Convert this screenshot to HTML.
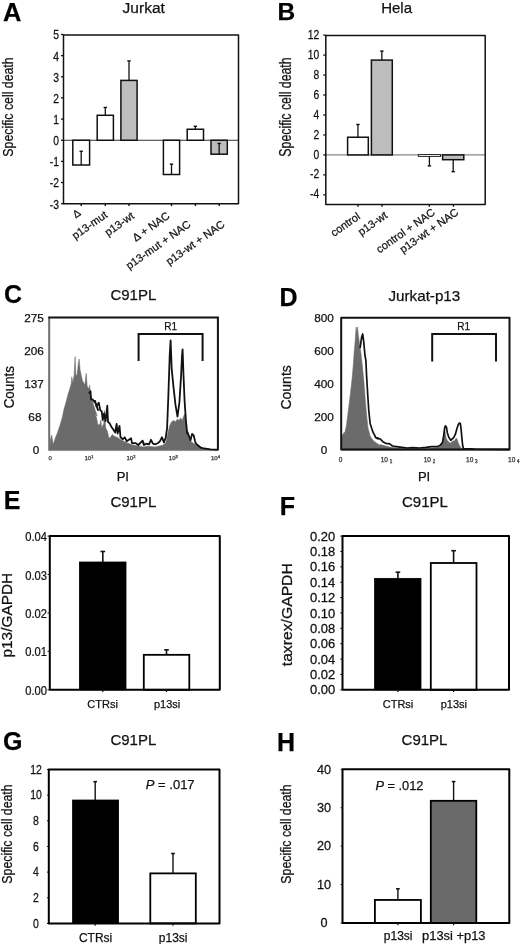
<!DOCTYPE html>
<html><head><meta charset="utf-8"><style>
html,body{margin:0;padding:0;background:#fff;}
svg{display:block;font-family:"Liberation Sans", sans-serif;filter:grayscale(1);}
text{stroke:#111;stroke-width:0.25px;paint-order:stroke;}
</style></head><body>
<svg width="520" height="944" viewBox="0 0 520 944">
<rect x="0" y="0" width="520" height="944" fill="#fff"/>
<text x="3.0" y="20.6" font-size="25.5" text-anchor="start" font-weight="bold" font-style="normal" fill="#000" >A</text>
<text x="122.6" y="12.9" font-size="15.5" text-anchor="start" font-weight="normal" font-style="normal" fill="#111" >Jurkat</text>
<text transform="translate(12.6,107) rotate(-90) scale(0.8,1)" font-size="15.4" text-anchor="middle" fill="#111">Specific cell death</text>
<line x1="63.5" y1="140.25" x2="238.5" y2="140.25" stroke="#333" stroke-width="1"/>
<line x1="61.0" y1="203.7" x2="63.5" y2="203.7" stroke="#111" stroke-width="1.3"/>
<text transform="translate(59.0,208.6) scale(0.84,1)" font-size="12.3" text-anchor="end" font-weight="normal" font-style="normal" fill="#111" >-3</text>
<line x1="61.0" y1="182.55" x2="63.5" y2="182.55" stroke="#111" stroke-width="1.3"/>
<text transform="translate(59.0,187.45000000000002) scale(0.84,1)" font-size="12.3" text-anchor="end" font-weight="normal" font-style="normal" fill="#111" >-2</text>
<line x1="61.0" y1="161.4" x2="63.5" y2="161.4" stroke="#111" stroke-width="1.3"/>
<text transform="translate(59.0,166.3) scale(0.84,1)" font-size="12.3" text-anchor="end" font-weight="normal" font-style="normal" fill="#111" >-1</text>
<line x1="61.0" y1="140.25" x2="63.5" y2="140.25" stroke="#111" stroke-width="1.3"/>
<text transform="translate(59.0,145.15) scale(0.84,1)" font-size="12.3" text-anchor="end" font-weight="normal" font-style="normal" fill="#111" >0</text>
<line x1="61.0" y1="119.1" x2="63.5" y2="119.1" stroke="#111" stroke-width="1.3"/>
<text transform="translate(59.0,124.0) scale(0.84,1)" font-size="12.3" text-anchor="end" font-weight="normal" font-style="normal" fill="#111" >1</text>
<line x1="61.0" y1="97.95" x2="63.5" y2="97.95" stroke="#111" stroke-width="1.3"/>
<text transform="translate(59.0,102.85000000000001) scale(0.84,1)" font-size="12.3" text-anchor="end" font-weight="normal" font-style="normal" fill="#111" >2</text>
<line x1="61.0" y1="76.80000000000001" x2="63.5" y2="76.80000000000001" stroke="#111" stroke-width="1.3"/>
<text transform="translate(59.0,81.70000000000002) scale(0.84,1)" font-size="12.3" text-anchor="end" font-weight="normal" font-style="normal" fill="#111" >3</text>
<line x1="61.0" y1="55.650000000000006" x2="63.5" y2="55.650000000000006" stroke="#111" stroke-width="1.3"/>
<text transform="translate(59.0,60.550000000000004) scale(0.84,1)" font-size="12.3" text-anchor="end" font-weight="normal" font-style="normal" fill="#111" >4</text>
<line x1="61.0" y1="34.5" x2="63.5" y2="34.5" stroke="#111" stroke-width="1.3"/>
<text transform="translate(59.0,39.4) scale(0.84,1)" font-size="12.3" text-anchor="end" font-weight="normal" font-style="normal" fill="#111" >5</text>
<rect x="72.80" y="140.25" width="16.80" height="24.75" fill="#fff" stroke="#111" stroke-width="1.5"/>
<line x1="81.19999999999999" y1="164.9955" x2="81.19999999999999" y2="151.248" stroke="#111" stroke-width="1.3"/>
<line x1="79.49999999999999" y1="151.248" x2="82.89999999999999" y2="151.248" stroke="#111" stroke-width="1.4"/>
<rect x="97.20" y="115.29" width="16.20" height="24.96" fill="#fff" stroke="#111" stroke-width="1.5"/>
<line x1="105.30000000000001" y1="115.293" x2="105.30000000000001" y2="107.4675" stroke="#111" stroke-width="1.3"/>
<line x1="103.60000000000001" y1="107.4675" x2="107.00000000000001" y2="107.4675" stroke="#111" stroke-width="1.4"/>
<rect x="120.90" y="80.40" width="16.20" height="59.85" fill="#bdbdbd" stroke="#111" stroke-width="1.5"/>
<line x1="129.0" y1="80.3955" x2="129.0" y2="60.9375" stroke="#111" stroke-width="1.3"/>
<line x1="127.3" y1="60.9375" x2="130.7" y2="60.9375" stroke="#111" stroke-width="1.4"/>
<rect x="163.40" y="140.25" width="16.20" height="34.26" fill="#fff" stroke="#111" stroke-width="1.5"/>
<line x1="171.5" y1="174.513" x2="171.5" y2="164.1495" stroke="#111" stroke-width="1.3"/>
<line x1="169.8" y1="164.1495" x2="173.2" y2="164.1495" stroke="#111" stroke-width="1.4"/>
<rect x="187.20" y="129.25" width="16.30" height="11.00" fill="#fff" stroke="#111" stroke-width="1.5"/>
<line x1="195.35" y1="129.252" x2="195.35" y2="126.291" stroke="#111" stroke-width="1.3"/>
<line x1="193.65" y1="126.291" x2="197.04999999999998" y2="126.291" stroke="#111" stroke-width="1.4"/>
<rect x="211.00" y="140.25" width="16.30" height="13.96" fill="#bdbdbd" stroke="#111" stroke-width="1.5"/>
<line x1="219.15" y1="154.209" x2="219.15" y2="143.4225" stroke="#111" stroke-width="1.3"/>
<line x1="217.45000000000002" y1="143.4225" x2="220.85" y2="143.4225" stroke="#111" stroke-width="1.4"/>
<path d="M63.5,203.8 L63.5,35 L238.5,35 L238.5,203.8 Z" fill="none" stroke="#111" stroke-width="1.5" stroke-linejoin="round"/>
<line x1="81.2" y1="203.8" x2="81.2" y2="206.10000000000002" stroke="#111" stroke-width="1.4"/>
<line x1="105.3" y1="203.8" x2="105.3" y2="206.10000000000002" stroke="#111" stroke-width="1.4"/>
<line x1="129.0" y1="203.8" x2="129.0" y2="206.10000000000002" stroke="#111" stroke-width="1.4"/>
<line x1="171.5" y1="203.8" x2="171.5" y2="206.10000000000002" stroke="#111" stroke-width="1.4"/>
<line x1="195.4" y1="203.8" x2="195.4" y2="206.10000000000002" stroke="#111" stroke-width="1.4"/>
<line x1="219.2" y1="203.8" x2="219.2" y2="206.10000000000002" stroke="#111" stroke-width="1.4"/>
<text transform="translate(81.6,214.6) rotate(-35) scale(1.0,1)" font-size="10.5" text-anchor="end" fill="#111">&#916;</text>
<text transform="translate(108.3,216.6) rotate(-35) scale(1.0,1)" font-size="11" text-anchor="end" fill="#111">p13-mut</text>
<text transform="translate(135.0,217.5) rotate(-35) scale(1.0,1)" font-size="11" text-anchor="end" fill="#111">p13-wt</text>
<text transform="translate(170.5,217.5) rotate(-35) scale(1.0,1)" font-size="11" text-anchor="end" fill="#111">&#916; + NAC</text>
<text transform="translate(191.5,226) rotate(-35) scale(1.0,1)" font-size="11" text-anchor="end" fill="#111">p13-mut + NAC</text>
<text transform="translate(225.5,226) rotate(-35) scale(1.0,1)" font-size="11" text-anchor="end" fill="#111">p13-wt + NAC</text>
<text x="277.5" y="19.6" font-size="24.5" text-anchor="start" font-weight="bold" font-style="normal" fill="#000" >B</text>
<text x="381.2" y="12.9" font-size="15" text-anchor="start" font-weight="normal" font-style="normal" fill="#111" >Hela</text>
<text transform="translate(290.8,107) rotate(-90) scale(0.79,1)" font-size="15.6" text-anchor="middle" fill="#111">Specific cell death</text>
<line x1="325.8" y1="154.9" x2="485.2" y2="154.9" stroke="#888" stroke-width="1.4"/>
<line x1="323.3" y1="194.82" x2="325.8" y2="194.82" stroke="#111" stroke-width="1.3"/>
<text transform="translate(319.3,198.42) scale(0.84,1)" font-size="12.3" text-anchor="end" font-weight="normal" font-style="normal" fill="#111" >-4</text>
<line x1="323.3" y1="174.86" x2="325.8" y2="174.86" stroke="#111" stroke-width="1.3"/>
<text transform="translate(319.3,178.46) scale(0.84,1)" font-size="12.3" text-anchor="end" font-weight="normal" font-style="normal" fill="#111" >-2</text>
<line x1="323.3" y1="154.9" x2="325.8" y2="154.9" stroke="#111" stroke-width="1.3"/>
<text transform="translate(319.3,158.5) scale(0.84,1)" font-size="12.3" text-anchor="end" font-weight="normal" font-style="normal" fill="#111" >0</text>
<line x1="323.3" y1="134.94" x2="325.8" y2="134.94" stroke="#111" stroke-width="1.3"/>
<text transform="translate(319.3,138.54) scale(0.84,1)" font-size="12.3" text-anchor="end" font-weight="normal" font-style="normal" fill="#111" >2</text>
<line x1="323.3" y1="114.98" x2="325.8" y2="114.98" stroke="#111" stroke-width="1.3"/>
<text transform="translate(319.3,118.58) scale(0.84,1)" font-size="12.3" text-anchor="end" font-weight="normal" font-style="normal" fill="#111" >4</text>
<line x1="323.3" y1="95.02000000000001" x2="325.8" y2="95.02000000000001" stroke="#111" stroke-width="1.3"/>
<text transform="translate(319.3,98.62) scale(0.84,1)" font-size="12.3" text-anchor="end" font-weight="normal" font-style="normal" fill="#111" >6</text>
<line x1="323.3" y1="75.06" x2="325.8" y2="75.06" stroke="#111" stroke-width="1.3"/>
<text transform="translate(319.3,78.66) scale(0.84,1)" font-size="12.3" text-anchor="end" font-weight="normal" font-style="normal" fill="#111" >8</text>
<line x1="323.3" y1="55.099999999999994" x2="325.8" y2="55.099999999999994" stroke="#111" stroke-width="1.3"/>
<text transform="translate(319.3,58.699999999999996) scale(0.84,1)" font-size="12.3" text-anchor="end" font-weight="normal" font-style="normal" fill="#111" >10</text>
<line x1="323.3" y1="35.14" x2="325.8" y2="35.14" stroke="#111" stroke-width="1.3"/>
<text transform="translate(319.3,38.74) scale(0.84,1)" font-size="12.3" text-anchor="end" font-weight="normal" font-style="normal" fill="#111" >12</text>
<rect x="347.60" y="137.24" width="20.70" height="17.66" fill="#fff" stroke="#111" stroke-width="1.5"/>
<line x1="357.95000000000005" y1="137.2354" x2="357.95000000000005" y2="124.46100000000001" stroke="#111" stroke-width="1.3"/>
<line x1="356.25000000000006" y1="124.46100000000001" x2="359.65000000000003" y2="124.46100000000001" stroke="#111" stroke-width="1.4"/>
<rect x="371.40" y="60.09" width="20.90" height="94.81" fill="#bdbdbd" stroke="#111" stroke-width="1.5"/>
<line x1="381.85" y1="60.09" x2="381.85" y2="51.108000000000004" stroke="#111" stroke-width="1.3"/>
<line x1="380.15000000000003" y1="51.108000000000004" x2="383.55" y2="51.108000000000004" stroke="#111" stroke-width="1.4"/>
<rect x="418.30" y="154.60" width="22.30" height="1.80" fill="#fff" stroke="#111" stroke-width="0.9"/>
<line x1="429.4" y1="156.8" x2="429.4" y2="165.9" stroke="#111" stroke-width="1.3"/>
<line x1="427.7" y1="165.9" x2="431.09999999999997" y2="165.9" stroke="#111" stroke-width="1.4"/>
<rect x="442.60" y="154.90" width="21.20" height="4.79" fill="#bdbdbd" stroke="#111" stroke-width="1.5"/>
<line x1="453.20000000000005" y1="159.6904" x2="453.20000000000005" y2="171.6664" stroke="#111" stroke-width="1.3"/>
<line x1="451.50000000000006" y1="171.6664" x2="454.90000000000003" y2="171.6664" stroke="#111" stroke-width="1.4"/>
<path d="M325.8,204.4 L325.8,35.5 L485.2,35.5 L485.2,204.4 Z" fill="none" stroke="#111" stroke-width="1.5" stroke-linejoin="round"/>
<line x1="358.0" y1="204.4" x2="358.0" y2="206.70000000000002" stroke="#111" stroke-width="1.4"/>
<line x1="382.0" y1="204.4" x2="382.0" y2="206.70000000000002" stroke="#111" stroke-width="1.4"/>
<line x1="429.3" y1="204.4" x2="429.3" y2="206.70000000000002" stroke="#111" stroke-width="1.4"/>
<line x1="453.4" y1="204.4" x2="453.4" y2="206.70000000000002" stroke="#111" stroke-width="1.4"/>
<text transform="translate(361,218) rotate(-35) scale(1.0,1)" font-size="11" text-anchor="end" fill="#111">control</text>
<text transform="translate(388.3,217) rotate(-35) scale(1.0,1)" font-size="11" text-anchor="end" fill="#111">p13-wt</text>
<text transform="translate(435.8,214) rotate(-35) scale(1.0,1)" font-size="11" text-anchor="end" fill="#111">control + NAC</text>
<text transform="translate(459.3,214) rotate(-35) scale(1.0,1)" font-size="11" text-anchor="end" fill="#111">p13-wt + NAC</text>
<text x="4.0" y="303.3" font-size="25" text-anchor="start" font-weight="bold" font-style="normal" fill="#000" >C</text>
<text x="110.4" y="300.4" font-size="15" text-anchor="start" font-weight="normal" font-style="normal" fill="#111" >C91PL</text>
<text transform="translate(13.6,387.2) rotate(-90) scale(0.955,1)" font-size="14" text-anchor="middle" fill="#111">Counts</text>
<text x="34.1" y="322.1" font-size="11.8" text-anchor="middle" font-weight="normal" font-style="normal" fill="#111" >275</text>
<text x="34.1" y="355.1" font-size="11.8" text-anchor="middle" font-weight="normal" font-style="normal" fill="#111" >206</text>
<text x="34.1" y="388.0" font-size="11.8" text-anchor="middle" font-weight="normal" font-style="normal" fill="#111" >137</text>
<text x="34.9" y="421.3" font-size="11.8" text-anchor="middle" font-weight="normal" font-style="normal" fill="#111" >68</text>
<text x="36.0" y="454.40000000000003" font-size="11.8" text-anchor="middle" font-weight="normal" font-style="normal" fill="#111" >0</text>
<polygon points="49.2,450.6 49.8,450.5 50.4,439.8 51.6,435.0 53.3,444.5 55.1,438.6 57.5,432.6 59.9,425.5 62.3,417.2 64.0,408.9 65.8,402.9 67.6,395.8 69.4,389.9 71.2,383.9 71.8,376.8 72.9,382.8 74.1,375.6 75.1,356.6 75.9,375.6 77.1,374.4 78.3,363.8 79.1,359.0 80.1,369.7 81.3,375.6 82.4,380.4 83.6,382.8 84.8,385.1 86.2,373.3 87.2,386.3 89.0,388.7 89.6,385.1 90.5,393.4 91.9,399.4 93.7,405.3 95.5,411.3 97.3,416.0 95.0,414.2 96.4,417.1 97.9,424.8 99.8,424.8 100.8,420.0 101.7,427.7 103.7,423.8 104.6,410.4 105.6,427.7 107.5,431.5 108.9,438.3 110.4,437.3 112.3,434.4 114.2,436.3 117.1,437.3 120.0,439.2 123.8,441.2 127.7,443.1 131.5,444.5 135.4,445.5 139.2,446.0 143.1,446.9 147.8,446.3 155.5,446.9 163.3,445.0 165.8,442.4 167.8,433.4 169.7,425.6 171.7,421.7 173.6,420.4 175.5,421.7 177.5,419.1 178.8,420.4 180.7,417.9 182.0,420.4 184.6,414.0 185.9,420.4 186.5,430.8 188.4,433.4 188.1,437.2 190.5,441.2 192.9,442.8 196.2,445.2 199.4,446.8 202.6,448.5 205.8,449.3 210.7,449.7 217.2,450.1 217.9,450.6" fill="#6b6b6b" stroke="#6b6b6b" stroke-width="0.5" stroke-linejoin="round"/>
<polyline points="89.0,393.4 90.5,391.1 91.0,399.4 92.5,399.4 94.3,401.8 95.5,402.9 96.7,406.5 98.0,410.1 95.0,400.8 96.4,406.5 98.8,402.7 100.3,410.4 101.7,411.3 102.7,420.0 104.1,413.3 105.6,421.0 107.3,405.6 108.0,421.9 109.4,422.9 111.3,426.7 113.3,429.6 115.2,432.5 116.6,423.8 117.6,433.5 119.5,425.8 120.5,437.3 122.9,439.2 124.8,437.3 126.7,441.2 131.1,438.3 132.0,443.1 135.4,443.1 138.3,445.0 142.6,440.7 144.0,444.0 142.6,441.1 143.9,445.0 146.5,443.7 149.0,444.3 151.0,439.8 152.9,443.7 155.5,444.3 158.1,443.0 160.0,441.1 162.0,437.2 163.9,442.4 165.8,437.2 167.1,428.2 168.4,394.6 169.7,355.8 170.6,340.3 171.7,368.8 173.6,388.1 175.5,404.9 177.5,416.6 179.4,402.4 181.1,375.2 182.0,355.8 182.6,349.4 183.5,375.2 184.6,401.1 185.9,420.4 187.2,433.4 186.9,430.7 188.1,433.9 190.5,440.4 192.1,433.9 193.7,435.5 194.9,440.4 195.8,443.6 197.8,445.2 201.0,447.7 204.2,448.5 207.5,448.9 210.7,449.3 217.2,449.7" fill="none" stroke="#111" stroke-width="1.8" stroke-linejoin="round"/>
<line x1="49.2" y1="317.6" x2="49.2" y2="450.5" stroke="#6e6e6e" stroke-width="2.0"/>
<path d="M48.2,317.6 L217.9,317.6 L217.9,450.5" fill="none" stroke="#111" stroke-width="2"/>
<path d="M138.6,361 L138.6,334 L202.6,334 L202.6,361" fill="none" stroke="#111" stroke-width="2"/>
<text x="170.6" y="329.6" font-size="10" text-anchor="middle" font-weight="normal" font-style="normal" fill="#111" >R1</text>
<text x="50.2" y="459.5" font-size="6" text-anchor="middle" font-weight="normal" font-style="normal" fill="#444" >0</text>
<text x="89.0" y="459.5" font-size="6" text-anchor="middle" font-weight="normal" font-style="normal" fill="#444" >10<tspan font-size="4" dy="-2">1</tspan></text>
<text x="131.0" y="459.5" font-size="6" text-anchor="middle" font-weight="normal" font-style="normal" fill="#444" >10<tspan font-size="4" dy="-2">2</tspan></text>
<text x="173.3" y="459.5" font-size="6" text-anchor="middle" font-weight="normal" font-style="normal" fill="#444" >10<tspan font-size="4" dy="-2">3</tspan></text>
<text x="215.5" y="459.5" font-size="6" text-anchor="middle" font-weight="normal" font-style="normal" fill="#444" >10<tspan font-size="4" dy="-2">4</tspan></text>
<text x="122.8" y="481.2" font-size="13" text-anchor="middle" font-weight="normal" font-style="normal" fill="#111" >PI</text>
<text x="279.5" y="306.2" font-size="25" text-anchor="start" font-weight="bold" font-style="normal" fill="#000" >D</text>
<text x="388.5" y="300.8" font-size="15.2" text-anchor="start" font-weight="normal" font-style="normal" fill="#111" >Jurkat-p13</text>
<text transform="translate(291.3,387.4) rotate(-90) scale(1.0,1)" font-size="14" text-anchor="middle" fill="#111">Counts</text>
<text x="324.1" y="322.1" font-size="11.8" text-anchor="middle" font-weight="normal" font-style="normal" fill="#111" >800</text>
<text x="324.1" y="355.1" font-size="11.8" text-anchor="middle" font-weight="normal" font-style="normal" fill="#111" >600</text>
<text x="324.1" y="388.0" font-size="11.8" text-anchor="middle" font-weight="normal" font-style="normal" fill="#111" >400</text>
<text x="324.1" y="421.1" font-size="11.8" text-anchor="middle" font-weight="normal" font-style="normal" fill="#111" >200</text>
<text x="324.1" y="454.1" font-size="11.8" text-anchor="middle" font-weight="normal" font-style="normal" fill="#111" >0</text>
<polygon points="341.7,450.2 341.7,450.1 342.1,436.1 343.5,433.3 344.9,431.9 346.3,426.3 347.7,415.1 349.1,403.9 350.5,392.7 351.9,380.1 353.3,364.8 354.0,353.6 354.7,346.6 355.4,336.8 356.1,327.0 356.8,332.6 357.5,327.0 358.2,334.0 359.6,343.8 361.0,353.6 362.4,366.2 363.8,380.1 365.2,398.3 366.6,415.1 368.0,427.7 370.1,436.1 372.9,440.3 376.4,443.1 380.0,445.2 380.4,444.6 385.8,446.0 391.2,447.3 401.9,448.6 415.4,448.9 428.8,448.4 436.9,447.3 440.9,446.6 441.2,444.2 442.7,441.9 443.8,434.2 444.6,429.6 445.4,433.5 446.2,438.1 447.3,440.4 448.8,441.9 450.4,443.5 451.5,441.9 453.1,441.2 454.6,440.4 456.2,438.1 457.3,439.6 458.5,443.5 459.6,445.8 461.2,448.1 462.7,448.8 475.0,449.2 509.5,450.2" fill="#6b6b6b" stroke="#6b6b6b" stroke-width="0.5" stroke-linejoin="round"/>
<polyline points="360.0,348.0 360.3,346.6 361.7,336.8 362.7,334.0 363.8,342.4 364.9,355.0 365.9,360.6 366.6,375.9 367.6,392.7 368.7,409.5 370.1,423.5 371.5,427.7 372.9,431.9 374.3,434.7 375.7,437.5 377.8,438.9 377.7,437.9 380.4,439.2 383.1,441.9 385.8,443.3 389.8,443.9 392.5,446.0 396.5,446.6 401.9,447.3 407.3,448.0 412.7,447.6 419.4,448.0 426.1,447.3 431.5,446.6 437.3,446.5 439.6,445.8 441.2,444.2 442.7,441.9 443.8,435.0 444.6,428.1 445.4,425.8 446.5,427.3 447.3,432.7 448.8,437.3 450.8,440.4 452.3,438.8 453.8,437.3 455.4,434.2 456.9,428.8 458.1,425.0 459.2,423.1 460.4,423.5 461.2,430.4 461.9,438.1 462.7,445.8 463.5,448.8 465.8,448.8 469.6,448.8 475.0,449.2 509.5,449.3" fill="none" stroke="#111" stroke-width="1.7" stroke-linejoin="round"/>
<path d="M341.2,449.5 L341.2,317.7 L509.5,317.7 L509.5,449.5 Z" fill="none" stroke="#111" stroke-width="2.0" stroke-linejoin="round"/>
<path d="M432.2,361.5 L432.2,334 L496,334 L496,361.5" fill="none" stroke="#111" stroke-width="2"/>
<text x="463.6" y="329.6" font-size="10" text-anchor="middle" font-weight="normal" font-style="normal" fill="#111" >R1</text>
<text x="340.5" y="461.5" font-size="6.5" text-anchor="middle" font-weight="normal" font-style="normal" fill="#444" >0</text>
<text x="386.5" y="461.5" font-size="6.5" text-anchor="middle" font-weight="normal" font-style="normal" fill="#444" >10 <tspan font-size="4.5" dy="1">1</tspan></text>
<text x="429.5" y="461.5" font-size="6.5" text-anchor="middle" font-weight="normal" font-style="normal" fill="#444" >10 <tspan font-size="4.5" dy="1">2</tspan></text>
<text x="471.8" y="461.5" font-size="6.5" text-anchor="middle" font-weight="normal" font-style="normal" fill="#444" >10 <tspan font-size="4.5" dy="1">3</tspan></text>
<text x="513.8" y="461.5" font-size="6.5" text-anchor="middle" font-weight="normal" font-style="normal" fill="#444" >10 <tspan font-size="4.5" dy="1">4</tspan></text>
<text x="424.1" y="481" font-size="13" text-anchor="middle" font-weight="normal" font-style="normal" fill="#111" >PI</text>
<text x="3.8" y="509.2" font-size="25" text-anchor="start" font-weight="bold" font-style="normal" fill="#000" >E</text>
<text x="110.4" y="506.7" font-size="15" text-anchor="start" font-weight="normal" font-style="normal" fill="#111" >C91PL</text>
<text transform="translate(12.3,615.2) rotate(-90) scale(1.0,1)" font-size="15.4" text-anchor="middle" fill="#111">p13/GAPDH</text>
<text transform="translate(46.9,694.8) scale(0.93,1)" font-size="12" text-anchor="end" font-weight="normal" font-style="normal" fill="#111" >0.00</text>
<line x1="47.599999999999994" y1="689.8" x2="49.8" y2="689.8" stroke="#111" stroke-width="1.0"/>
<text transform="translate(46.9,656.375) scale(0.93,1)" font-size="12" text-anchor="end" font-weight="normal" font-style="normal" fill="#111" >0.01</text>
<line x1="47.599999999999994" y1="651.375" x2="49.8" y2="651.375" stroke="#111" stroke-width="1.0"/>
<text transform="translate(46.9,617.95) scale(0.93,1)" font-size="12" text-anchor="end" font-weight="normal" font-style="normal" fill="#111" >0.02</text>
<line x1="47.599999999999994" y1="612.95" x2="49.8" y2="612.95" stroke="#111" stroke-width="1.0"/>
<text transform="translate(46.9,579.525) scale(0.93,1)" font-size="12" text-anchor="end" font-weight="normal" font-style="normal" fill="#111" >0.03</text>
<line x1="47.599999999999994" y1="574.525" x2="49.8" y2="574.525" stroke="#111" stroke-width="1.0"/>
<text transform="translate(46.9,541.1) scale(0.93,1)" font-size="12" text-anchor="end" font-weight="normal" font-style="normal" fill="#111" >0.04</text>
<line x1="47.599999999999994" y1="536.1" x2="49.8" y2="536.1" stroke="#111" stroke-width="1.0"/>
<rect x="79.40" y="562.00" width="46.60" height="127.80" fill="#000" stroke="#000" stroke-width="0.8"/>
<line x1="102.8" y1="561.99845" x2="102.8" y2="551.47" stroke="#111" stroke-width="1.6"/>
<line x1="100.5" y1="551.47" x2="105.1" y2="551.47" stroke="#111" stroke-width="1.6"/>
<rect x="143.80" y="654.83" width="45.50" height="34.97" fill="#fff" stroke="#000" stroke-width="1.8"/>
<line x1="166.5" y1="654.83325" x2="166.5" y2="649.838" stroke="#111" stroke-width="1.6"/>
<line x1="164.2" y1="649.838" x2="168.8" y2="649.838" stroke="#111" stroke-width="1.6"/>
<path d="M49.8,689.8 L49.8,536.1 L219.8,536.1 L219.8,689.8 Z" fill="none" stroke="#000" stroke-width="2.0" stroke-linejoin="round"/>
<line x1="102.8" y1="689.8" x2="102.8" y2="692.0999999999999" stroke="#111" stroke-width="1.2"/>
<line x1="166.5" y1="689.8" x2="166.5" y2="692.0999999999999" stroke="#111" stroke-width="1.2"/>
<text x="102.6" y="708.0" font-size="11" text-anchor="middle" font-weight="normal" font-style="normal" fill="#111" >CTRsi</text>
<text x="167.1" y="708.0" font-size="11" text-anchor="middle" font-weight="normal" font-style="normal" fill="#111" >p13si</text>
<text x="279.8" y="514.5" font-size="25" text-anchor="start" font-weight="bold" font-style="normal" fill="#000" >F</text>
<text x="402.0" y="506.9" font-size="15" text-anchor="start" font-weight="normal" font-style="normal" fill="#111" >C91PL</text>
<text transform="translate(291.6,614.7) rotate(-90) scale(1.035,1)" font-size="15.2" text-anchor="middle" fill="#111">taxrex/GAPDH</text>
<text transform="translate(335.2,694.4) scale(1.08,1)" font-size="12" text-anchor="end" font-weight="normal" font-style="normal" fill="#111" >0.00</text>
<line x1="340.3" y1="689.8" x2="342.5" y2="689.8" stroke="#111" stroke-width="1.0"/>
<text transform="translate(335.2,679.03) scale(1.08,1)" font-size="12" text-anchor="end" font-weight="normal" font-style="normal" fill="#111" >0.02</text>
<line x1="340.3" y1="674.43" x2="342.5" y2="674.43" stroke="#111" stroke-width="1.0"/>
<text transform="translate(335.2,663.66) scale(1.08,1)" font-size="12" text-anchor="end" font-weight="normal" font-style="normal" fill="#111" >0.04</text>
<line x1="340.3" y1="659.06" x2="342.5" y2="659.06" stroke="#111" stroke-width="1.0"/>
<text transform="translate(335.2,648.29) scale(1.08,1)" font-size="12" text-anchor="end" font-weight="normal" font-style="normal" fill="#111" >0.06</text>
<line x1="340.3" y1="643.6899999999999" x2="342.5" y2="643.6899999999999" stroke="#111" stroke-width="1.0"/>
<text transform="translate(335.2,632.92) scale(1.08,1)" font-size="12" text-anchor="end" font-weight="normal" font-style="normal" fill="#111" >0.08</text>
<line x1="340.3" y1="628.3199999999999" x2="342.5" y2="628.3199999999999" stroke="#111" stroke-width="1.0"/>
<text transform="translate(335.2,617.5500000000001) scale(1.08,1)" font-size="12" text-anchor="end" font-weight="normal" font-style="normal" fill="#111" >0.10</text>
<line x1="340.3" y1="612.95" x2="342.5" y2="612.95" stroke="#111" stroke-width="1.0"/>
<text transform="translate(335.2,602.1800000000001) scale(1.08,1)" font-size="12" text-anchor="end" font-weight="normal" font-style="normal" fill="#111" >0.12</text>
<line x1="340.3" y1="597.58" x2="342.5" y2="597.58" stroke="#111" stroke-width="1.0"/>
<text transform="translate(335.2,586.8100000000001) scale(1.08,1)" font-size="12" text-anchor="end" font-weight="normal" font-style="normal" fill="#111" >0.14</text>
<line x1="340.3" y1="582.21" x2="342.5" y2="582.21" stroke="#111" stroke-width="1.0"/>
<text transform="translate(335.2,571.44) scale(1.08,1)" font-size="12" text-anchor="end" font-weight="normal" font-style="normal" fill="#111" >0.16</text>
<line x1="340.3" y1="566.84" x2="342.5" y2="566.84" stroke="#111" stroke-width="1.0"/>
<text transform="translate(335.2,556.07) scale(1.08,1)" font-size="12" text-anchor="end" font-weight="normal" font-style="normal" fill="#111" >0.18</text>
<line x1="340.3" y1="551.47" x2="342.5" y2="551.47" stroke="#111" stroke-width="1.0"/>
<text transform="translate(335.2,540.7) scale(1.08,1)" font-size="12" text-anchor="end" font-weight="normal" font-style="normal" fill="#111" >0.20</text>
<line x1="340.3" y1="536.1" x2="342.5" y2="536.1" stroke="#111" stroke-width="1.0"/>
<rect x="374.60" y="578.37" width="46.40" height="111.43" fill="#000" stroke="#000" stroke-width="0.8"/>
<line x1="397.9" y1="578.3675000000001" x2="397.9" y2="572.2195" stroke="#111" stroke-width="1.6"/>
<line x1="395.59999999999997" y1="572.2195" x2="400.2" y2="572.2195" stroke="#111" stroke-width="1.6"/>
<rect x="430.80" y="563.00" width="45.70" height="126.80" fill="#fff" stroke="#000" stroke-width="1.8"/>
<line x1="453.6" y1="562.9975" x2="453.6" y2="550.7015" stroke="#111" stroke-width="1.6"/>
<line x1="451.3" y1="550.7015" x2="455.90000000000003" y2="550.7015" stroke="#111" stroke-width="1.6"/>
<path d="M342.5,689.8 L342.5,536.1 L509.0,536.1 L509.0,689.8 Z" fill="none" stroke="#000" stroke-width="2.0" stroke-linejoin="round"/>
<line x1="397.9" y1="689.8" x2="397.9" y2="692.0999999999999" stroke="#111" stroke-width="1.2"/>
<line x1="453.6" y1="689.8" x2="453.6" y2="692.0999999999999" stroke="#111" stroke-width="1.2"/>
<text x="398.0" y="708.0" font-size="11" text-anchor="middle" font-weight="normal" font-style="normal" fill="#111" >CTRsi</text>
<text x="453.8" y="708.0" font-size="11" text-anchor="middle" font-weight="normal" font-style="normal" fill="#111" >p13si</text>
<text x="3.0" y="749.8" font-size="25" text-anchor="start" font-weight="bold" font-style="normal" fill="#000" >G</text>
<text x="110.4" y="745.0" font-size="15" text-anchor="start" font-weight="normal" font-style="normal" fill="#111" >C91PL</text>
<text transform="translate(12.3,834) rotate(-90) scale(0.8,1)" font-size="15.4" text-anchor="middle" fill="#111">Specific cell death</text>
<text transform="translate(36.0,927.6) scale(0.86,1)" font-size="12.2" text-anchor="middle" font-weight="normal" font-style="normal" fill="#111" >0</text>
<line x1="47.0" y1="923.4" x2="48.8" y2="923.4" stroke="#111" stroke-width="1.0"/>
<text transform="translate(36.0,901.95) scale(0.86,1)" font-size="12.2" text-anchor="middle" font-weight="normal" font-style="normal" fill="#111" >2</text>
<line x1="47.0" y1="897.75" x2="48.8" y2="897.75" stroke="#111" stroke-width="1.0"/>
<text transform="translate(36.0,876.3000000000001) scale(0.86,1)" font-size="12.2" text-anchor="middle" font-weight="normal" font-style="normal" fill="#111" >4</text>
<line x1="47.0" y1="872.1" x2="48.8" y2="872.1" stroke="#111" stroke-width="1.0"/>
<text transform="translate(36.0,850.6500000000001) scale(0.86,1)" font-size="12.2" text-anchor="middle" font-weight="normal" font-style="normal" fill="#111" >6</text>
<line x1="47.0" y1="846.45" x2="48.8" y2="846.45" stroke="#111" stroke-width="1.0"/>
<text transform="translate(36.0,825.0) scale(0.86,1)" font-size="12.2" text-anchor="middle" font-weight="normal" font-style="normal" fill="#111" >8</text>
<line x1="47.0" y1="820.8" x2="48.8" y2="820.8" stroke="#111" stroke-width="1.0"/>
<text transform="translate(36.0,799.35) scale(0.86,1)" font-size="12.2" text-anchor="middle" font-weight="normal" font-style="normal" fill="#111" >10</text>
<line x1="47.0" y1="795.15" x2="48.8" y2="795.15" stroke="#111" stroke-width="1.0"/>
<text transform="translate(36.0,773.7) scale(0.86,1)" font-size="12.2" text-anchor="middle" font-weight="normal" font-style="normal" fill="#111" >12</text>
<line x1="47.0" y1="769.5" x2="48.8" y2="769.5" stroke="#111" stroke-width="1.0"/>
<rect x="72.60" y="800.02" width="46.00" height="123.38" fill="#000" stroke="#000" stroke-width="0.8"/>
<line x1="95.2" y1="800.0235" x2="95.2" y2="781.68375" stroke="#111" stroke-width="1.4"/>
<line x1="93.4" y1="781.68375" x2="97.0" y2="781.68375" stroke="#111" stroke-width="1.6"/>
<rect x="150.30" y="873.38" width="45.50" height="50.02" fill="#fff" stroke="#000" stroke-width="1.8"/>
<line x1="173.0" y1="873.3824999999999" x2="173.0" y2="853.50375" stroke="#111" stroke-width="1.4"/>
<line x1="171.2" y1="853.50375" x2="174.8" y2="853.50375" stroke="#111" stroke-width="1.6"/>
<path d="M48.8,923.4 L48.8,769.5 L219.5,769.5 L219.5,923.4 Z" fill="none" stroke="#000" stroke-width="2.0" stroke-linejoin="round"/>
<line x1="95.2" y1="923.4" x2="95.2" y2="925.6999999999999" stroke="#111" stroke-width="1.2"/>
<line x1="173.0" y1="923.4" x2="173.0" y2="925.6999999999999" stroke="#111" stroke-width="1.2"/>
<text x="95.6" y="941.5" font-size="12" text-anchor="middle" font-weight="normal" font-style="normal" fill="#111" >CTRsi</text>
<text x="173.2" y="941.5" font-size="12" text-anchor="middle" font-weight="normal" font-style="normal" fill="#111" >p13si</text>
<text x="145.8" y="789.3" font-size="13" text-anchor="start" font-weight="normal" font-style="normal" fill="#111" ><tspan font-style="italic">P</tspan> = .017</text>
<text x="277.0" y="751.0" font-size="25" text-anchor="start" font-weight="bold" font-style="normal" fill="#000" >H</text>
<text x="401.6" y="745.4" font-size="15" text-anchor="start" font-weight="normal" font-style="normal" fill="#111" >C91PL</text>
<text transform="translate(291.3,834) rotate(-90) scale(0.8,1)" font-size="15.4" text-anchor="middle" fill="#111">Specific cell death</text>
<text transform="translate(324.0,927.3) scale(1.04,1)" font-size="12.2" text-anchor="middle" font-weight="normal" font-style="normal" fill="#111" >0</text>
<line x1="340.7" y1="923.0" x2="342.5" y2="923.0" stroke="#111" stroke-width="1.0"/>
<text transform="translate(324.0,888.875) scale(1.04,1)" font-size="12.2" text-anchor="middle" font-weight="normal" font-style="normal" fill="#111" >10</text>
<line x1="340.7" y1="884.575" x2="342.5" y2="884.575" stroke="#111" stroke-width="1.0"/>
<text transform="translate(324.0,850.4499999999999) scale(1.04,1)" font-size="12.2" text-anchor="middle" font-weight="normal" font-style="normal" fill="#111" >20</text>
<line x1="340.7" y1="846.15" x2="342.5" y2="846.15" stroke="#111" stroke-width="1.0"/>
<text transform="translate(324.0,812.0249999999999) scale(1.04,1)" font-size="12.2" text-anchor="middle" font-weight="normal" font-style="normal" fill="#111" >30</text>
<line x1="340.7" y1="807.7249999999999" x2="342.5" y2="807.7249999999999" stroke="#111" stroke-width="1.0"/>
<text transform="translate(324.0,773.5999999999999) scale(1.04,1)" font-size="12.2" text-anchor="middle" font-weight="normal" font-style="normal" fill="#111" >40</text>
<line x1="340.7" y1="769.3" x2="342.5" y2="769.3" stroke="#111" stroke-width="1.0"/>
<rect x="374.90" y="899.94" width="46.00" height="23.06" fill="#fff" stroke="#000" stroke-width="1.8"/>
<line x1="397.9" y1="899.9449999999999" x2="397.9" y2="888.80175" stroke="#111" stroke-width="1.4"/>
<line x1="396.09999999999997" y1="888.80175" x2="399.7" y2="888.80175" stroke="#111" stroke-width="1.6"/>
<rect x="430.80" y="800.81" width="45.50" height="122.19" fill="#6a6a6a" stroke="#000" stroke-width="1.8"/>
<line x1="453.6" y1="800.8085" x2="453.6" y2="781.596" stroke="#111" stroke-width="1.4"/>
<line x1="451.8" y1="781.596" x2="455.40000000000003" y2="781.596" stroke="#111" stroke-width="1.6"/>
<path d="M342.5,923.0 L342.5,769.3 L509.3,769.3 L509.3,923.0 Z" fill="none" stroke="#000" stroke-width="2.0" stroke-linejoin="round"/>
<line x1="397.9" y1="923.0" x2="397.9" y2="925.3" stroke="#111" stroke-width="1.2"/>
<line x1="453.6" y1="923.0" x2="453.6" y2="925.3" stroke="#111" stroke-width="1.2"/>
<text x="398.2" y="940.2" font-size="12" text-anchor="middle" font-weight="normal" font-style="normal" fill="#111" >p13si</text>
<text x="453.8" y="940.2" font-size="12.9" text-anchor="middle" font-weight="normal" font-style="normal" fill="#111" >p13si +p13</text>
<text x="375.4" y="789.6" font-size="12.8" text-anchor="start" font-weight="normal" font-style="normal" fill="#111" ><tspan font-style="italic">P</tspan> = .012</text>
</svg>
</body></html>
